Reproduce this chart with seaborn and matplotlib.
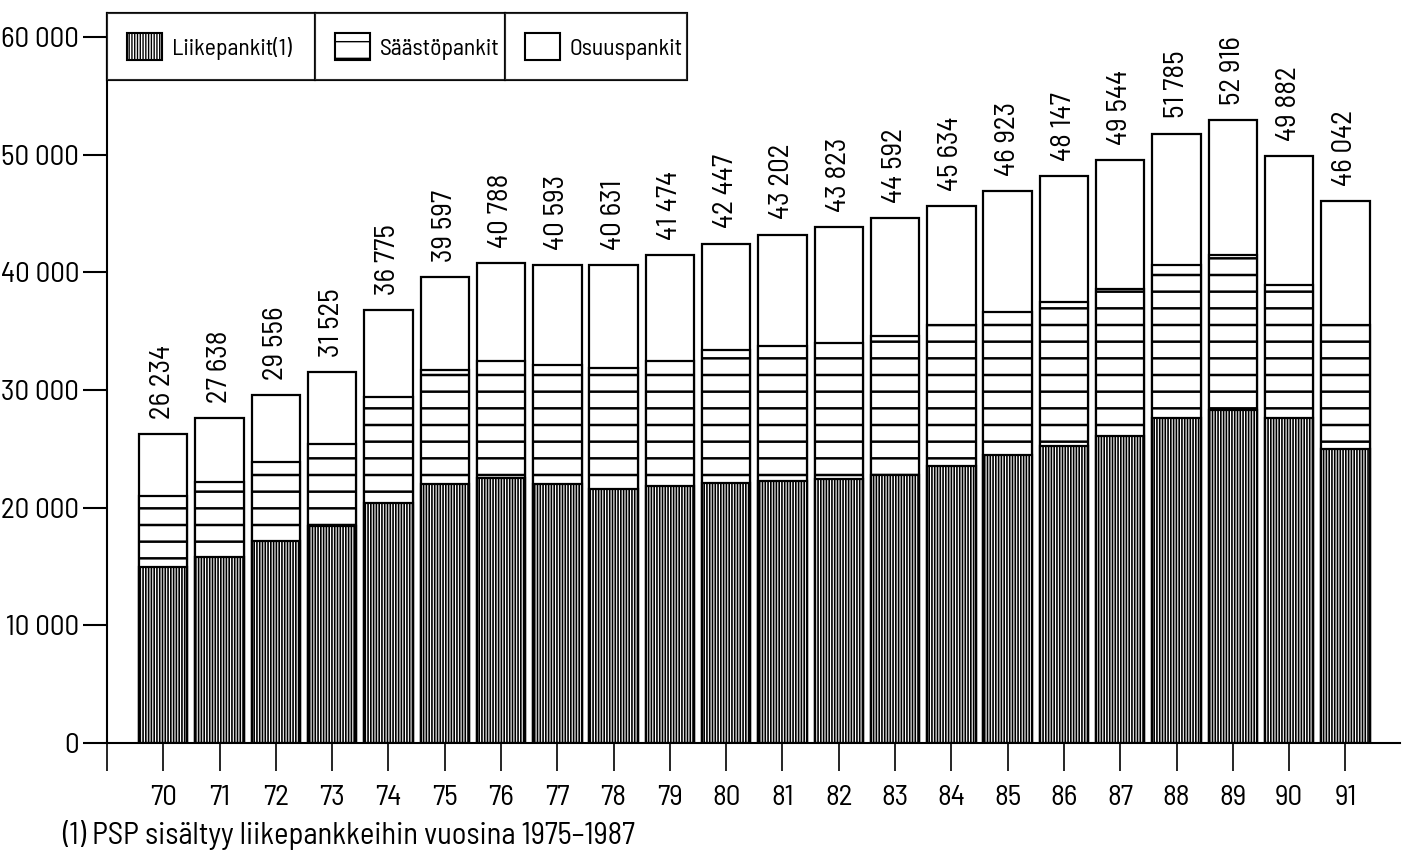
import numpy as np
import pandas as pd
import matplotlib
matplotlib.use("Agg")
import matplotlib.pyplot as plt
import seaborn as sns
from matplotlib.patches import Patch
from matplotlib import font_manager


# vuodet ja arvot (milj. mk), luettu kuvasta
vuodet = ["70", "71", "72", "73", "74", "75", "76", "77", "78", "79", "80",
          "81", "82", "83", "84", "85", "86", "87", "88", "89", "90", "91"]
yhteensa = [26234, 27638, 29556, 31525, 36775, 39597, 40788, 40593, 40631, 41474, 42447,
            43202, 43823, 44592, 45634, 46923, 48147, 49544, 51785, 52916, 49882, 46042]
liikepankit = [15000, 15800, 17200, 18400, 20400, 22000, 22500, 22000, 21600, 21800, 22100,
               22300, 22400, 22800, 23500, 24500, 25200, 26100, 27600, 28300, 27600, 25000]
saastopankit = [6000, 6400, 6700, 7000, 9000, 9700, 10000, 10100, 10300, 10700, 11300,
                11400, 11600, 11800, 12000, 12100, 12300, 12500, 13000, 13200, 11300, 10500]

sarjat = ["Liikepankit(1)", "Säästöpankit", "Osuuspankit"]
y_ticks = [0, 10000, 20000, 30000, 40000, 50000, 60000]

df = pd.DataFrame({"vuosi": vuodet, "yhteensa": yhteensa,
                   "liike": liikepankit, "saasto": saastopankit})
df["saasto_kum"] = df["liike"] + df["saasto"]
df["osuus"] = df["yhteensa"] - df["saasto_kum"]

sns.set_style("ticks")

# kapea fontti jos löytyy, muuten DejaVu pienemmillä koilla
asennetut = {f.name for f in font_manager.fontManager.ttflist}
if "Barlow Semi Condensed" in asennetut:
    plt.rcParams["font.family"] = ["Barlow Semi Condensed", "DejaVu Sans"]
    fs_tick, fs_label, fs_leg, fs_note = 21, 21, 17, 22
else:
    plt.rcParams["font.family"] = ["DejaVu Sans"]
    fs_tick, fs_label, fs_leg, fs_note = 16, 15, 14, 16
plt.rcParams["text.color"] = "black"
plt.rcParams["xtick.color"] = "black"
plt.rcParams["ytick.color"] = "black"
plt.rcParams["hatch.linewidth"] = 1.0
plt.rcParams["hatch.color"] = "black"

fig = plt.figure(figsize=(14.04, 8.58), dpi=100)
ax = fig.add_axes([107 / 1404, 115 / 858, 1293 / 1404, 730 / 858])

bar_kw = dict(color="white", edgecolor="black", linewidth=1.6, width=0.86,
              order=vuodet, ax=ax, errorbar=None)
# kerrokset päällekkäin: ensin koko pylväs, sitten säästöpankit, sitten liikepankit
sns.barplot(data=df, x="vuosi", y="yhteensa", **bar_kw)
sns.barplot(data=df, x="vuosi", y="saasto_kum", hatch="-", **bar_kw)
sns.barplot(data=df, x="vuosi", y="liike", hatch="||||||", **bar_kw)

for cont, lw in zip(ax.containers, [1.0, 1.8, 1.2]):
    for p in cont:
        if hasattr(p, "set_hatch_linewidth"):
            p.set_hatch_linewidth(lw)

ax.bar_label(ax.containers[0],
             labels=[f"{v:,}".replace(",", " ") for v in yhteensa],
             rotation=90, padding=11, fontsize=fs_label)

ax.set_ylim(0, 62040)
ax.set_xlim(-1, 21.97)
ax.set_yticks(y_ticks, [f"{v:,}".replace(",", " ") for v in y_ticks])
ax.set_xticks(range(-1, len(vuodet)), [""] + vuodet)
ax.tick_params(axis="y", length=17, width=1.5, labelsize=fs_tick, pad=3)
ax.tick_params(axis="x", length=20, width=1.2, labelsize=fs_tick, pad=10)
ax.set_xlabel("")
ax.set_ylabel("")
sns.despine(ax=ax)
for s in ["left", "bottom"]:
    ax.spines[s].set_linewidth(1.5)
    ax.spines[s].set_color("black")

# selite kolmena vierekkäisenä laatikkona
hatches = ["||||||", "-", ""]
rajat = [107, 315, 505, 687]
for i, (nimi, h) in enumerate(zip(sarjat, hatches)):
    kahva = Patch(facecolor="white", edgecolor="black", hatch=h, linewidth=1.5)
    x0 = rajat[i] / 1404
    w = (rajat[i + 1] - rajat[i]) / 1404
    leg = fig.legend([kahva], [nimi], loc="upper left",
                     bbox_to_anchor=(x0, 1 - 13 / 858, w, 0.0), mode="expand",
                     borderaxespad=0, frameon=True, fancybox=False, fontsize=fs_leg,
                     handlelength=1.5, handleheight=1.4, handletextpad=0.4,
                     borderpad=0.85)
    leg.get_frame().set_edgecolor("black")
    leg.get_frame().set_linewidth(1.5)
    fig.add_artist(leg)

fig.text(62 / 1404, 1 - 835 / 858, "(1) PSP sisältyy liikepankkeihin vuosina 1975–1987",
         fontsize=fs_note, va="center", ha="left")

fig.savefig("out.png", dpi=100, facecolor="white")
